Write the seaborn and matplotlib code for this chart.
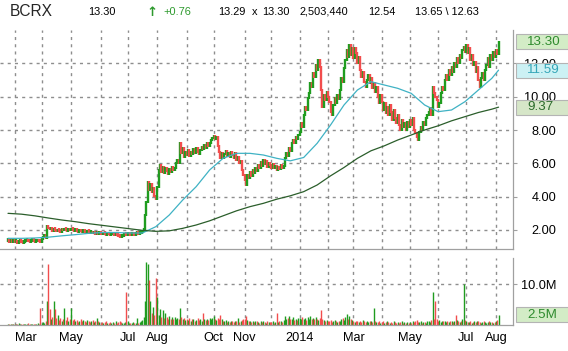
import numpy as np
import pandas as pd
import matplotlib
matplotlib.use("Agg")
import matplotlib.pyplot as plt
from matplotlib.patches import Rectangle
import seaborn as sns

# --- data --------------------------------------------------------------
ticker = "BCRX"
first_day, last_day = "2013-02-22", "2014-08-05"
holidays = ["2013-03-29", "2013-05-27", "2013-07-04", "2013-09-02", "2013-11-28",
            "2013-12-25", "2014-01-01", "2014-01-20", "2014-02-17", "2014-04-18",
            "2014-05-26", "2014-07-04"]

# daily closes, one list per month
close_feb13 = [1.35, 1.30, 1.32, 1.28, 1.30]
close_mar13 = [1.28, 1.32, 1.25, 1.30, 1.35, 1.28, 1.22, 1.30, 1.34, 1.38,
               1.32, 1.28, 1.35, 1.40, 1.36, 1.30, 1.33, 1.38, 1.32, 1.30]
close_apr13 = [1.45, 1.60, 1.70, 1.55, 2.25, 2.10, 2.05, 2.10, 1.95, 2.05,
               2.00, 1.92, 2.02, 1.96, 1.90, 2.05, 1.98, 2.08, 2.00, 1.95, 2.05, 1.98]
close_may13 = [2.05, 2.00, 1.95, 2.02, 1.96, 1.90, 1.98, 1.92, 1.88, 1.95,
               1.90, 1.85, 1.92, 1.88, 1.82, 1.86, 1.80, 1.84, 1.78, 1.82, 1.76, 1.80]
close_jun13 = [1.78, 1.74, 1.80, 1.76, 1.72, 1.78, 1.75, 1.70, 1.74, 1.78,
               1.72, 1.76, 1.70, 1.66, 1.60, 1.58, 1.64, 1.68, 1.72, 1.70]
close_jul13 = [1.72, 1.75, 1.70, 1.74, 1.78, 1.72, 1.76, 1.80, 1.78, 1.82,
               1.85, 1.92, 2.05, 2.90, 3.70, 4.90, 4.40, 4.75, 4.30, 4.55, 4.05, 3.85]
close_aug13 = [4.60, 5.60, 5.90, 5.50, 5.80, 5.40, 5.70, 5.55, 5.35, 5.65,
               5.50, 5.80, 5.60, 5.75, 6.05, 6.20, 6.00, 7.20, 6.60, 6.90, 6.40, 6.70]
close_sep13 = [6.50, 6.80, 6.45, 6.70, 6.55, 6.85, 6.60, 6.90, 6.70, 6.55,
               6.80, 7.00, 6.85, 7.10, 6.95, 7.20, 7.05, 7.25, 7.40, 7.55]
close_oct13 = [7.65, 7.45, 7.60, 7.05, 6.70, 6.35, 6.60, 6.30, 6.55, 6.75,
               6.45, 6.65, 6.40, 6.70, 6.50, 6.35, 6.60, 6.20, 6.40, 6.00, 6.15, 5.60, 5.30]
close_nov13 = [5.00, 4.70, 5.30, 5.10, 5.50, 5.25, 5.60, 5.40, 5.75, 5.55,
               5.90, 5.70, 6.10, 5.85, 6.20, 5.95, 6.15, 5.80, 6.05, 5.90]
close_dec13 = [5.75, 5.95, 5.70, 5.85, 5.60, 5.80, 5.65, 5.90, 5.70, 5.85,
               6.30, 6.60, 6.45, 6.90, 6.75, 7.20, 7.40, 7.25, 7.60, 7.45, 7.70]
close_jan14 = [7.90, 8.40, 8.20, 8.90, 9.40, 9.20, 9.90, 10.20, 10.80, 10.60,
               11.40, 11.20, 11.90, 11.60, 12.20, 11.80, 10.40, 9.40, 10.10, 9.80, 10.30]
close_feb14 = [10.00, 9.70, 9.10, 8.90, 9.50, 9.90, 9.60, 10.10, 9.85, 10.40,
               11.10, 10.90, 11.70, 12.20, 12.80, 12.40, 13.10, 12.50, 12.90]
close_mar14 = [12.30, 12.90, 12.60, 12.00, 12.40, 11.60, 11.20, 11.50, 10.90, 10.60,
               11.00, 11.30, 10.80, 11.10, 10.50, 10.80, 10.30, 10.60, 10.00, 9.60, 10.10]
close_apr14 = [9.70, 9.20, 9.60, 9.00, 9.40, 8.90, 9.50, 9.10, 8.60, 9.20,
               8.70, 8.40, 8.90, 8.30, 8.00, 8.60, 8.20, 8.40, 8.00, 8.50, 8.20]
close_may14 = [8.60, 8.30, 8.70, 8.00, 7.80, 7.60, 7.40, 7.90, 8.20, 8.00,
               8.50, 8.30, 8.70, 8.90, 9.10, 9.30, 8.90, 10.60, 10.20, 10.00, 9.80]
close_jun14 = [9.40, 9.60, 10.20, 10.60, 10.40, 11.00, 11.30, 11.00, 11.60, 11.30,
               11.80, 11.50, 12.00, 11.80, 12.30, 12.00, 12.50, 12.30, 12.80, 13.00, 12.70]
close_jul14 = [13.10, 12.60, 12.90, 12.20, 12.50, 11.90, 12.10, 11.50, 11.80, 11.00,
               10.60, 11.10, 11.40, 11.00, 11.60, 11.90, 12.30, 11.80, 12.50, 12.20, 12.70, 12.40]
close_aug14 = [12.80, 12.54, 13.30]

# daily volume, millions of shares
vol_feb13 = [0.3, 0.25, 0.35, 0.3, 0.2]
vol_mar13 = [0.3, 0.2, 0.25, 0.4, 0.3, 0.2, 0.3, 0.35, 0.25, 0.3,
             0.4, 0.3, 0.2, 0.3, 0.25, 0.35, 0.3, 0.4, 0.3, 4.2]
vol_apr13 = [0.6, 0.8, 0.5, 1.0, 6.0, 15.0, 4.0, 1.5, 2.0, 6.0,
             4.0, 1.8, 2.5, 1.2, 1.8, 1.0, 1.5, 4.3, 1.2, 2.0, 1.0, 1.4]
vol_may13 = [4.2, 1.2, 1.5, 1.0, 1.3, 0.8, 1.1, 1.4, 0.9, 1.2,
             1.0, 0.8, 1.3, 1.0, 0.7, 0.9, 1.2, 0.8, 1.0, 1.8, 0.9, 0.7]
vol_jun13 = [0.6, 0.8, 0.5, 0.7, 0.9, 0.6, 0.5, 0.8, 0.6, 0.7,
             0.5, 0.9, 0.6, 0.8, 1.0, 0.7, 0.5, 0.6, 0.8, 8.1]
vol_jul13 = [0.9, 0.6, 0.4, 0.5, 0.7, 0.5, 0.6, 1.8, 0.6, 0.8,
             1.0, 1.2, 2.0, 6.0, 15.5, 15.0, 11.0, 6.0, 3.0, 4.5, 2.5, 11.6]
vol_aug13 = [7.0, 2.5, 4.0, 2.0, 3.6, 1.8, 2.9, 2.0, 1.5, 2.2,
             1.6, 1.9, 1.4, 2.0, 1.5, 1.8, 1.6, 4.3, 2.0, 1.5, 1.8, 1.2]
vol_sep13 = [1.5, 1.2, 1.8, 1.0, 1.4, 1.6, 1.1, 1.3, 1.7, 1.2,
             1.5, 1.0, 2.9, 1.4, 1.2, 1.6, 1.3, 1.8, 1.5, 1.7]
vol_oct13 = [2.3, 1.5, 1.2, 1.8, 1.4, 2.5, 1.6, 1.0, 0.9, 1.2,
             0.8, 1.0, 0.7, 0.9, 1.1, 0.8, 1.0, 0.9, 1.8, 0.8, 1.0, 1.2, 1.4]
vol_nov13 = [1.5, 2.3, 1.2, 0.9, 1.0, 0.8, 1.1, 0.7, 0.9, 1.0,
             0.8, 0.6, 0.9, 0.7, 1.0, 0.8, 0.6, 0.9, 0.7, 0.8]
vol_dec13 = [0.7, 0.9, 0.6, 0.8, 2.9, 0.7, 0.9, 1.0, 0.8, 1.2,
             2.3, 1.5, 1.8, 2.3, 1.6, 1.4, 1.9, 1.2, 1.5, 1.3, 1.7]
vol_jan14 = [1.8, 1.5, 2.0, 1.4, 1.7, 1.3, 1.9, 1.6, 2.2, 1.5,
             1.8, 1.4, 2.0, 1.6, 1.3, 1.8, 3.7, 1.5, 1.2, 1.0, 1.3]
vol_feb14 = [0.9, 1.1, 1.3, 0.8, 1.0, 1.2, 0.9, 0.7, 1.0, 1.1,
             1.4, 1.8, 1.2, 2.0, 2.7, 1.6, 2.2, 1.4, 1.2]
vol_mar14 = [1.0, 0.8, 1.1, 0.9, 0.7, 1.0, 0.8, 1.2, 0.9, 0.7,
             1.0, 0.8, 0.9, 1.1, 0.8, 4.1, 1.0, 0.8, 0.7, 0.9, 0.6]
vol_apr14 = [0.7, 0.9, 0.6, 0.8, 1.0, 0.7, 0.5, 0.8, 0.6, 0.9,
             0.7, 0.5, 0.8, 0.6, 0.7, 0.9, 0.6, 0.8, 0.5, 0.7, 0.6]
vol_may14 = [0.8, 0.6, 0.9, 0.7, 1.0, 1.2, 0.8, 0.7, 0.9, 0.6,
             0.8, 0.7, 0.5, 0.9, 1.1, 0.8, 1.3, 8.1, 1.5, 6.0, 1.4]
vol_jun14 = [1.0, 1.2, 0.8, 1.1, 0.9, 1.0, 0.7, 0.9, 0.8, 1.1,
             0.9, 0.7, 1.0, 2.5, 1.2, 0.9, 0.8, 1.0, 1.5, 10.0, 1.2]
vol_jul14 = [1.0, 0.8, 0.7, 0.9, 0.6, 0.8, 1.0, 0.7, 0.9, 1.1,
             0.8, 0.6, 0.7, 0.9, 0.8, 0.6, 0.7, 0.9, 0.8, 0.7, 0.6, 0.8]
vol_aug14 = [0.9, 1.2, 2.5]

# moving averages, read every 10th session (plus the last one)
ma50 = [1.50, 1.50, 1.52, 1.57, 1.65, 1.72, 1.80, 1.85, 1.85, 1.82,
        1.82, 2.20, 2.90, 3.80, 4.60, 5.60, 6.30, 6.60, 6.60, 6.50,
        6.30, 6.15, 6.35, 7.20, 8.30, 9.50, 10.40, 10.90, 10.70, 10.50,
        10.20, 9.50, 9.10, 9.20, 9.70, 10.40, 11.10, 11.59]
ma200 = [3.00, 2.95, 2.85, 2.72, 2.60, 2.50, 2.38, 2.28, 2.18, 2.08,
         1.98, 1.92, 1.95, 2.10, 2.30, 2.55, 2.85, 3.15, 3.40, 3.60,
         3.85, 4.05, 4.30, 4.70, 5.25, 5.75, 6.30, 6.75, 7.05, 7.40,
         7.70, 8.00, 8.25, 8.55, 8.80, 9.05, 9.25, 9.37]

price_ticks = [2, 4, 6, 8, 10, 12]
vol_ticks = [10]
month_labels = ["Mar", "", "May", "", "Jul", "Aug", "", "Oct", "Nov", "",
                "2014", "", "Mar", "", "May", "", "Jul", "Aug"]
header = [("13.30", 88, "black"), ("+0.76", 163, "#2e9a2e"),
          ("13.29", 218, "black"), ("x", 252, "black"), ("13.30", 262, "black"),
          ("2,503,440", 299, "black"), ("12.54", 368, "black"),
          ("13.65 \\ 12.63", 415, "black")]

# --- build frames ------------------------------------------------------
closes = (close_feb13 + close_mar13 + close_apr13 + close_may13 + close_jun13 + close_jul13
          + close_aug13 + close_sep13 + close_oct13 + close_nov13 + close_dec13 + close_jan14
          + close_feb14 + close_mar14 + close_apr14 + close_may14 + close_jun14 + close_jul14
          + close_aug14)
vols = (vol_feb13 + vol_mar13 + vol_apr13 + vol_may13 + vol_jun13 + vol_jul13 + vol_aug13
        + vol_sep13 + vol_oct13 + vol_nov13 + vol_dec13 + vol_jan14 + vol_feb14 + vol_mar14
        + vol_apr14 + vol_may14 + vol_jun14 + vol_jul14 + vol_aug14)

dates = pd.bdate_range(first_day, last_day, freq="C", holidays=holidays)
df = pd.DataFrame({"date": dates, "close": closes, "volume": vols})
df["i"] = np.arange(len(df))
df["open"] = df["close"].shift(1).fillna(df["close"].iloc[0])
df["up"] = df["close"] >= df["open"]

ma_idx = list(range(0, len(df), 10)) + [len(df) - 1]
ma_df = pd.DataFrame({"i": ma_idx, "ma50": ma50, "ma200": ma200})

month_start = df.groupby(df["date"].dt.to_period("M"))["i"].first().iloc[1:]

GREEN, RED = "#1f9c1f", "#f24d4d"
TEAL, DKGREEN = "#3fb2c4", "#2b5e2b"
GRID = "#8e8e8e"

# --- figure ------------------------------------------------------------
sns.set_theme(style="white")
plt.rcParams["font.family"] = ["Liberation Sans", "DejaVu Sans"]

W, H = 568, 351
fig = plt.figure(figsize=(W / 100, H / 100), dpi=100)
ax = fig.add_axes([0, 1 - 249 / H, 513 / W, 219 / H])
axv = fig.add_axes([0, 1 - 325 / H, 513 / W, 67 / H])

px_per_day = 1.344
xlim = (-8 / px_per_day, 505 / px_per_day)

# candles (open -> close, padded a little to show the day's range)
lo = np.minimum(df["open"], df["close"]) - 0.06
hi = np.maximum(np.maximum(df["open"], df["close"]) + 0.06, lo + 0.22)
ax.vlines(df["i"], lo, hi, colors=np.where(df["up"], GREEN, RED), lw=1.7, zorder=2)
sns.lineplot(data=ma_df, x="i", y="ma50", ax=ax, color=TEAL, lw=0.9, zorder=3)
sns.lineplot(data=ma_df, x="i", y="ma200", ax=ax, color=DKGREEN, lw=0.9, zorder=3)

ax.set_ylim(0.86, 14.0)
ax.set_yticks(price_ticks)
ax.set_yticklabels([f"{v:.2f}" for v in price_ticks])
ax.set_xlabel("")
ax.set_ylabel("")

axv.vlines(df["i"], 0, df["volume"], colors=np.where(df["up"], GREEN, RED), lw=1.0, zorder=2)
axv.set_ylim(0, 16.5)
axv.set_yticks(vol_ticks)
axv.set_yticklabels([f"{v:.1f}M" for v in vol_ticks])

for a in (ax, axv):
    a.set_xlim(*xlim)
    a.set_xticks(month_start.values)
    for s in ("top", "left"):
        a.spines[s].set_visible(False)
    for s in ("bottom", "right"):
        a.spines[s].set_color("#a0a0a0")
        a.spines[s].set_linewidth(0.9)
    a.yaxis.tick_right()
    a.tick_params(axis="both", length=3, color="#a0a0a0", width=0.8,
                  labelsize=9.2, labelcolor="black")
    a.tick_params(axis="y", pad=(555 - 516) * 0.72)

# dashed grid, drawn as plain lines at the tick positions
for a, yt in ((ax, price_ticks), (axv, vol_ticks)):
    for m in month_start.values:
        a.plot([m, m], [0, 1], transform=a.get_xaxis_transform(), color=GRID,
               lw=1.0, dashes=[2.2, 3], zorder=1)
    for v in yt:
        a.plot([0, 1], [v, v], transform=a.get_yaxis_transform(), color=GRID,
               lw=1.0, dashes=[2.2, 3], zorder=1)

ax.set_xticklabels([])
axv.set_xticklabels(month_labels)
axv.tick_params(axis="x", pad=2)
axv.get_xticklabels()[0].set_horizontalalignment("left")
for a in (ax, axv):
    for lab in a.get_yticklabels():
        lab.set_horizontalalignment("right")

# right-hand value boxes
def value_box(a, val, text, fc, tc):
    y = fig.transFigure.inverted().transform(a.transData.transform((0, val)))[1]
    fig.patches.append(Rectangle((516 / W, y - 7.5 / H), 54 / W, 15 / H,
                                 transform=fig.transFigure, fc=fc, ec="#b4b4b4", lw=0.8))
    fig.text(527 / W, y, text, ha="left", va="center", fontsize=9.6, color=tc)

value_box(ax, closes[-1], f"{closes[-1]:.2f}", "#d3ecc6", "#2e8b2e")
value_box(ax, ma50[-1], f"{ma50[-1]:.2f}", "#ccf1f4", "#35a6b8")
value_box(ax, ma200[-1], f"{ma200[-1]:.2f}", "#d6e6c8", "#2b6a2b")
value_box(axv, vols[-1], f"{vols[-1]:.1f}M", "#d3ecc6", "#2e8b2e")

# quote header
fig.text(10 / W, 1 - 12 / H, ticker, fontsize=11.2, va="center", ha="left")
fig.text(146 / W, 1 - 12 / H, "\u2191", fontsize=9.5, fontweight="bold",
         va="center", ha="left", color="#2e9a2e", family=["DejaVu Sans"])
for txt, x, col in header:
    fig.text(x / W, 1 - 12 / H, txt, fontsize=7.9, va="center", ha="left", color=col)

fig.savefig("out.png", dpi=100, facecolor="white")
